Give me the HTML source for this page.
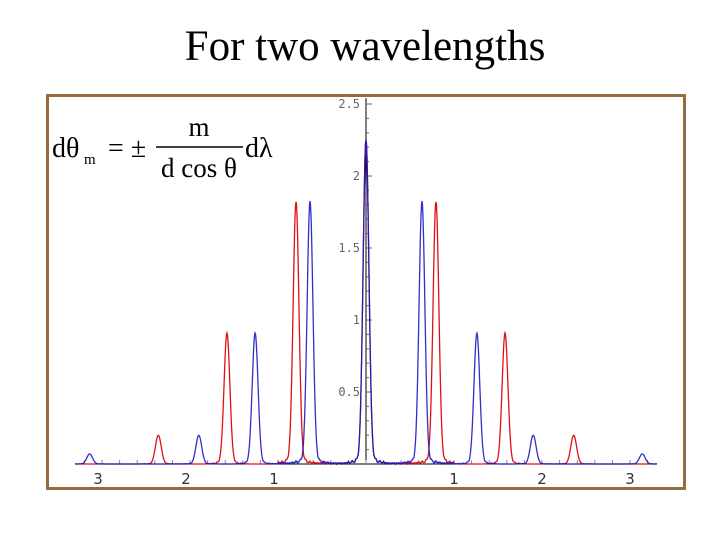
<!DOCTYPE html>
<html><head><meta charset="utf-8"><style>
body{margin:0;background:#fff;}
#wrap{position:relative;width:720px;height:540px;overflow:hidden;background:#fff;font-family:"Liberation Serif",serif;}
#title{position:absolute;left:0;width:730px;top:22px;text-align:center;font-size:43px;color:#000;}
#frame{position:absolute;left:46px;top:94px;width:634px;height:390px;border:3px solid #946c3e;background:#fff;}
</style></head><body>
<div id="wrap">
<div id="title">For two wavelengths</div>
<div id="frame"></div>
<svg id="chart" width="720" height="540" style="position:absolute;left:0;top:0">
<g font-family="Liberation Serif, serif" fill="#000">
<text x="52" y="157" font-size="28">dθ</text>
<text x="84" y="164" font-size="15">m</text>
<text x="108" y="157" font-size="28">= ±</text>
<text x="199" y="136" font-size="27" text-anchor="middle">m</text>
<line x1="156" y1="147" x2="243" y2="147" stroke="#000" stroke-width="1.5"/>
<text x="199" y="177" font-size="27" text-anchor="middle">d cos θ</text>
<text x="245" y="157" font-size="28">dλ</text>
</g>
</svg>
</div>
<script>
const yTickValues=[0.5,1,1.5,2,2.5];
const yTickLabels=["0.5","1","1.5","2","2.5"];
const xTickValues=[-3,-2,-1,1,2,3];
const xTickLabels=["3","2","1","1","2","3"];
const redPositions=[-2.36,-1.58,-0.795,0,0.795,1.58,2.36];
const redHeights=[0.2,0.91,1.82,2.25,1.82,0.91,0.2];
const bluePositions=[-3.14,-1.9,-1.26,-0.636,0,0.636,1.26,1.9,3.14];
const blueHeights=[0.07,0.2,0.91,1.82,2.25,1.82,0.91,0.2,0.07];
const NS="http://www.w3.org/2000/svg";
const svg=document.getElementById('chart');
const X=v=>366+v*88, Y=v=>464-v*144;
function mk(t,a){const e=document.createElementNS(NS,t);for(const k in a)e.setAttribute(k,a[k]);svg.appendChild(e);return e;}
let ax=mk('line',{x1:75,y1:464,x2:657,y2:464,stroke:'#000','stroke-width':1});


let ay=mk('line',{x1:366,y1:98,x2:366,y2:464,stroke:'#000','stroke-width':1});


for(let v=0.1;v<=2.5001;v+=0.1){const t=mk('line',{x1:366,x2:Math.abs(v*2-Math.round(v*2))<0.01?372:369,y1:Y(v),y2:Y(v),stroke:'#666'});

}
yTickValues.forEach((v,i)=>{const t=mk('text',{x:360,y:Y(v)+4,'text-anchor':'end','font-size':12,'font-family':'DejaVu Sans Mono, monospace',fill:'#666'});t.textContent=yTickLabels[i];

});
for(let v=-3.2;v<=3.21;v+=0.2){const t=mk('line',{x1:X(v),x2:X(v),y1:464,y2:460,stroke:'#888'});

}
xTickValues.forEach((v,i)=>{const t=mk('text',{x:X(v)-(v<0?4:0),y:484,'text-anchor':'middle','font-size':15,'font-family':'DejaVu Sans, sans-serif',fill:'#333'});t.textContent=xTickLabels[i];

});
function series(pos,hts,color,name,op){
  let d='';const w=0.033;
  for(let px=75;px<=657;px+=0.5){const v=(px-366)/88;let s=0;
    pos.forEach((p,i)=>{const u=(v-p)/w;s+=hts[i]*Math.exp(-u*u/2);
      const a=Math.abs(v-p);if(a>0.09&&a<0.25)s+=hts[i]*0.012*Math.abs(Math.sin(a*70))*(0.25-a)/0.16;});
    if(Math.abs(v)<1)s+=0.008*Math.abs(Math.sin(v*150));
    d+=(d?'L':'M')+px.toFixed(1)+','+Y(s).toFixed(1);}
  const p=mk('path',{d:d,fill:'none',stroke:color,'stroke-width':1.3,'stroke-opacity':op});
  
  
}
series(redPositions,redHeights,'#e01010','red-wavelength-series',1);
series(bluePositions,blueHeights,'#1818c8','blue-wavelength-series',0.9);
</script>
</body></html>
